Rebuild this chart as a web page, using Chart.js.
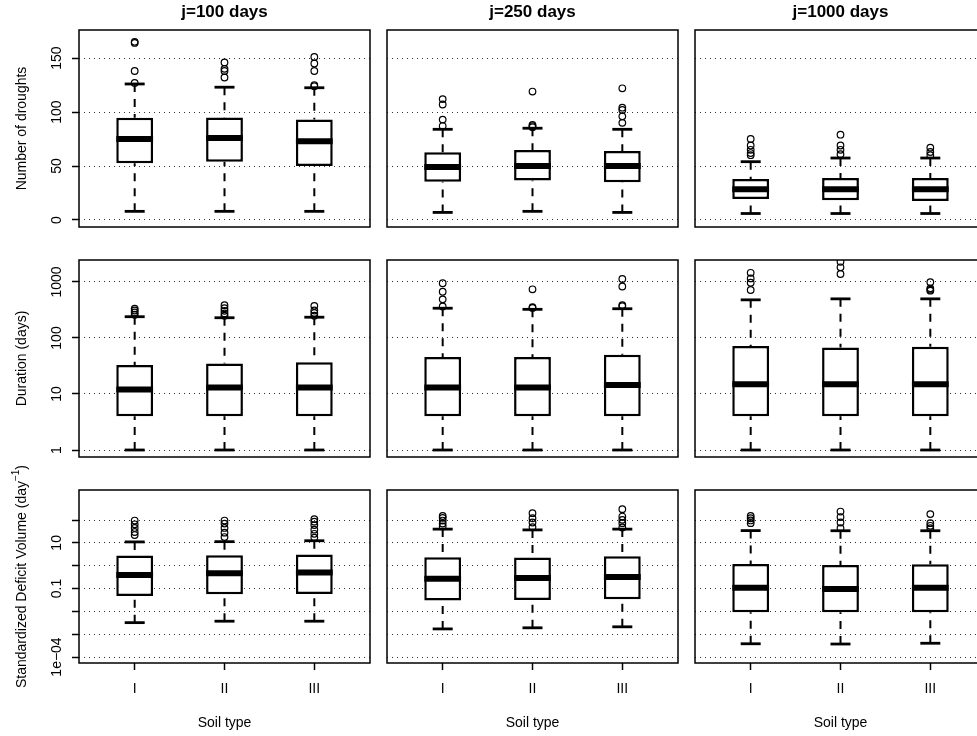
<!DOCTYPE html>
<html>
<head>
<meta charset="utf-8">
<script src="https://cdn.jsdelivr.net/npm/chart.js@4.4.1/dist/chart.umd.min.js"></script>
<style>
  html, body { margin: 0; padding: 0; background: #fff; overflow: hidden; width: 977px; height: 736px; }
  #wrap { position: relative; width: 977px; height: 736px; overflow: hidden; background: #fff; }
  #wrap canvas { position: absolute; left: 0; top: 0; }
</style>
</head>
<body>
<div id="wrap"></div>
<script>
// ---- categories ----
const windowTitles = ['j=100 days', 'j=250 days', 'j=1000 days'];
const soilTypes = ['I', 'II', 'III'];

// ---- Number of droughts: [window][soil type] ----
const droughtLow    = [[8, 8, 8], [7, 8, 7], [6, 6, 6]];
const droughtQ1     = [[52.5, 54, 50], [35.5, 36.5, 35], [19.4, 18.2, 17.6]];
const droughtMedian = [[75, 76, 73], [49, 50, 50], [28.4, 28.4, 28.4]];
const droughtQ3     = [[94.7, 95, 93], [62.7, 64.8, 63.9], [38, 39, 39]];
const droughtHigh   = [[126, 123, 122.5], [84, 85, 84], [54, 57.4, 57.4]];
const droughtOutliers = [
  [[127, 138, 164, 165], [132, 138, 140, 146], [124, 125, 138, 145, 151]],
  [[87, 93, 107, 112], [86, 87, 88, 119], [90, 96, 102, 104, 122]],
  [[60, 62, 65, 69, 75], [61, 65, 69, 79], [60, 63, 67]]
];

// ---- Duration (days): [window][soil type] ----
const durationLow    = [[1, 1, 1], [1, 1, 1], [1, 1, 1]];
const durationQ1     = [[4, 4, 4], [4, 4, 4], [4, 4, 4]];
const durationMedian = [[12, 13, 13], [13, 13, 14.5], [15, 15, 15]];
const durationQ3     = [[33, 35, 37], [46, 46, 50], [72, 68, 70]];
const durationHigh   = [[240, 230, 235], [340, 325, 333], [480, 500, 500]];
const durationOutliers = [
  [[260, 285, 310, 335], [250, 275, 305, 340, 385], [250, 280, 310, 375]],
  [[365, 490, 670, 950], [345, 355, 740], [370, 385, 830, 1130]],
  [[720, 970, 1160, 1460], [1390, 1830, 2300], [700, 730, 770, 990]]
];

// ---- Standardized deficit volume (1/day): [window][soil type] ----
const volumeLow    = [[0.0032, 0.0037, 0.0037], [0.0017, 0.0019, 0.0021], [0.00038, 0.00037, 0.0004]];
const volumeQ1     = [[0.047, 0.056, 0.058], [0.0295, 0.0316, 0.034], [0.0091, 0.0091, 0.0091]];
const volumeMedian = [[0.39, 0.47, 0.5], [0.27, 0.29, 0.32], [0.107, 0.096, 0.107]];
const volumeQ3     = [[2.8, 2.9, 3.1], [2.36, 2.26, 2.61], [1.2, 1.08, 1.16]];
const volumeHigh   = [[11, 11.3, 12.4], [40, 37, 40], [34.5, 34, 34]];
const volumeOutliers = [
  [[22, 30, 45, 65, 95], [18, 28, 45, 70, 95], [17, 25, 38, 60, 85, 110]],
  [[52, 70, 95, 125, 150], [49, 78, 120, 200], [47, 73, 102, 142, 300]],
  [[73, 96, 120, 152], [44, 78, 135, 235], [44, 56, 73, 182]]
];

// ---- tick values and labels for each row's value axis ----
const droughtTicks = [0, 50, 100, 150];
const droughtTickLabels = ['0', '50', '100', '150'];
const durationTicks = [1, 10, 100, 1000];
const durationTickLabels = ['1', '10', '100', '1000'];
const volumeTicks = [1e-4, 1e-3, 1e-2, 1e-1, 1, 10, 100];
const volumeTickLabels = ['1e\u221204', '', '', '0.1', '', '10', ''];

const rows = [
  { low: droughtLow, q1: droughtQ1, median: droughtMedian, q3: droughtQ3, high: droughtHigh, out: droughtOutliers,
    type: 'linear', min: -6.5, max: 176, ticks: droughtTicks, labels: droughtTickLabels, title: ['Number of droughts'] },
  { low: durationLow, q1: durationQ1, median: durationMedian, q3: durationQ3, high: durationHigh, out: durationOutliers,
    type: 'logarithmic', min: 0.75, max: 2470, ticks: durationTicks, labels: durationTickLabels, title: ['Duration (days)'] },
  { low: volumeLow, q1: volumeQ1, median: volumeMedian, q3: volumeQ3, high: volumeHigh, out: volumeOutliers,
    type: 'logarithmic', min: 5.46e-5, max: 2070, ticks: volumeTicks, labels: volumeTickLabels,
    title: ['Standardized Deficit Volume (day', '\u22121', ')'] }
];

// ---- page layout ----
const CANVAS_W = 1000, CANVAS_H = 736;
const colLeft = [79, 387, 695];
const panelW = 291;
const rowTop = [30, 260, 490];
const rowBottom = [227, 457, 663];
const FONT = '"Liberation Sans", Arial, Helvetica, sans-serif';

// Frame, tick labels and titles around each panel
const panelDecor = {
  id: 'panelDecor',
  afterDraw(chart, args, opts) {
    const { ctx, chartArea: a } = chart;
    const spec = rows[opts.row];
    const yScale = chart.scales.y, xScale = chart.scales.x;
    ctx.save();
    ctx.setLineDash([]);
    ctx.strokeStyle = '#000';
    ctx.lineWidth = 1.5;
    ctx.strokeRect(a.left, a.top, a.right - a.left, a.bottom - a.top);
    ctx.fillStyle = '#000';
    ctx.textAlign = 'center';
    ctx.textBaseline = 'middle';

    if (opts.row === 0) {
      ctx.font = 'bold 17px ' + FONT;
      ctx.fillText(windowTitles[opts.col], (a.left + a.right) / 2, a.top - 18);
    }

    if (opts.col === 0) {
      // value-axis labels, written along the axis
      ctx.font = '14px ' + FONT;
      yScale.ticks.forEach((t, i) => {
        const txt = spec.labels[i];
        if (!txt) return;
        const py = yScale.getPixelForValue(t.value);
        ctx.save();
        ctx.translate(a.left - 22, py);
        ctx.rotate(-Math.PI / 2);
        ctx.fillText(txt, 0, 0);
        ctx.restore();
      });
      // axis title (optional superscript part)
      const parts = spec.title;
      const cy = (a.top + a.bottom) / 2;
      ctx.save();
      ctx.translate(22, cy);
      ctx.rotate(-Math.PI / 2);
      ctx.textAlign = 'left';
      const mainFont = '14px ' + FONT, supFont = '10px ' + FONT;
      ctx.font = mainFont;
      const w0 = ctx.measureText(parts[0]).width;
      const w2 = parts[2] ? ctx.measureText(parts[2]).width : 0;
      ctx.font = supFont;
      const w1 = parts[1] ? ctx.measureText(parts[1]).width : 0;
      let x = -(w0 + w1 + w2) / 2;
      ctx.font = mainFont;
      ctx.fillText(parts[0], x, 0);
      x += w0;
      if (parts[1]) {
        ctx.font = supFont;
        ctx.fillText(parts[1], x, -6);
        x += w1;
        ctx.font = mainFont;
        ctx.fillText(parts[2], x, 0);
      }
      ctx.restore();
    }

    if (opts.row === 2) {
      ctx.font = '14px ' + FONT;
      xScale.ticks.forEach((t, i) => {
        ctx.fillText(soilTypes[i], xScale.getPixelForValue(t.value), a.bottom + 26);
      });
      ctx.fillText('Soil type', (a.left + a.right) / 2, a.bottom + 60);
    }
    ctx.restore();
  }
};

function buildPanel(r, c) {
  const spec = rows[r];
  const boxes = [], medians = [], caps = [], whiskers = [], outliers = [];
  soilTypes.forEach((s, i) => {
    const x = i + 1;
    boxes.push({ x, y: [spec.q1[c][i], spec.q3[c][i]] });
    medians.push({ x, y: spec.median[c][i] });
    caps.push({ x, y: spec.low[c][i] }, { x, y: spec.high[c][i] });
    whiskers.push(
      { x, y: spec.low[c][i] }, { x, y: spec.q1[c][i] }, { x, y: null },
      { x, y: spec.high[c][i] }, { x, y: spec.q3[c][i] }, { x, y: null }
    );
    spec.out[c][i].forEach(v => outliers.push({ x, y: v }));
  });

  const canvas = document.createElement('canvas');
  canvas.width = CANVAS_W;
  canvas.height = CANVAS_H;
  document.getElementById('wrap').appendChild(canvas);

  return new Chart(canvas, {
    type: 'bar',
    data: {
      datasets: [
        { type: 'line', data: whiskers, borderColor: '#000', borderWidth: 2, borderDash: [8, 7],
          pointRadius: 0, spanGaps: false, fill: false, tension: 0, order: 5 },
        { type: 'bar', data: boxes, backgroundColor: '#fff', borderColor: '#000', borderWidth: 2.5,
          borderSkipped: false, barPercentage: 0.41, categoryPercentage: 1, order: 4 },
        { type: 'scatter', data: medians, pointStyle: 'line', pointRadius: 18.4, pointBorderWidth: 6,
          pointBorderColor: '#000', borderColor: '#000', order: 3 },
        { type: 'scatter', data: caps, pointStyle: 'line', pointRadius: 10, pointBorderWidth: 2.8,
          pointBorderColor: '#000', borderColor: '#000', order: 2 },
        { type: 'scatter', data: outliers, pointStyle: 'circle', pointRadius: 3.3, pointBorderWidth: 1.2,
          pointBorderColor: '#000', pointBackgroundColor: 'rgba(0,0,0,0)', borderColor: '#000', clip: 0, order: 1 }
      ]
    },
    options: {
      responsive: false,
      animation: false,
      devicePixelRatio: 1,
      events: [],
      layout: {
        autoPadding: false,
        padding: {
          left: colLeft[c], top: rowTop[r],
          right: CANVAS_W - colLeft[c] - panelW, bottom: CANVAS_H - rowBottom[r]
        }
      },
      plugins: {
        legend: { display: false },
        tooltip: { enabled: false },
        panelDecor: { row: r, col: c }
      },
      scales: {
        x: {
          type: 'linear', min: 0.38, max: 3.62, offset: false,
          afterBuildTicks: s => { s.ticks = soilTypes.map((_, i) => ({ value: i + 1 })); },
          afterFit: s => { s.height = 0; },
          ticks: { display: false },
          border: { display: false },
          grid: { display: r === 2, offset: false, drawOnChartArea: false, drawTicks: true,
                  tickLength: 7, tickColor: '#000', tickWidth: 1.5 }
        },
        y: {
          type: spec.type, min: spec.min, max: spec.max,
          afterBuildTicks: s => { s.ticks = spec.ticks.map(v => ({ value: v })); },
          afterFit: s => { s.width = 0; },
          ticks: { display: false },
          border: { display: false, dash: [1, 4] },
          grid: { display: true, color: '#333', lineWidth: 1, drawOnChartArea: true,
                  drawTicks: c === 0, tickLength: 7, tickColor: '#000', tickWidth: 1.5 }
        }
      }
    },
    plugins: [panelDecor]
  });
}

for (let r = 0; r < 3; r++) {
  for (let c = 0; c < 3; c++) buildPanel(r, c);
}
</script>
</body>
</html>
